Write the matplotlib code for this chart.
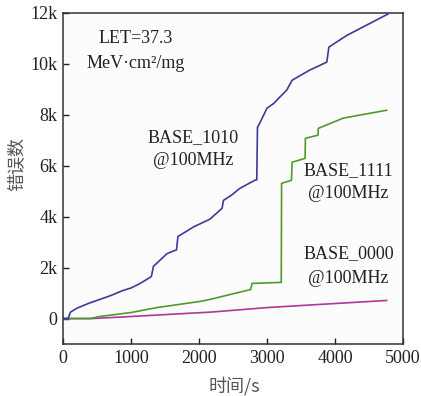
import matplotlib.pyplot as plt
from matplotlib.ticker import FuncFormatter

plt.rcParams["font.family"] = ["Liberation Serif", "Noto Sans CJK SC"]
plt.rcParams["font.size"] = 13

# BASE_1010 (blue)
t_1010 = [0, 75, 110, 200, 380, 540, 700, 880, 1000, 1130, 1300, 1330, 1350, 1530,
          1670, 1690, 1800, 1920, 2160, 2340, 2360, 2480, 2600, 2820, 2850, 2860,
          2900, 3000, 3100, 3190, 3290, 3370, 3500, 3630, 3880, 3910, 4180, 4470,
          4780]
n_1010 = [0, 0, 250, 400, 600, 750, 900, 1100, 1200, 1370, 1650, 2050, 2100, 2550,
          2700, 3220, 3400, 3600, 3900, 4330, 4640, 4850, 5110, 5430, 5450, 7510,
          7710, 8260, 8450, 8700, 8970, 9360, 9560, 9760, 10070, 10660, 11130, 11530,
          11960]

# BASE_1111 (green)
t_1111 = [0, 400, 540, 1010, 1380, 2010, 2160, 2760, 2780, 3210, 3215, 3360,
          3370, 3560, 3565, 3750, 3755, 4120, 4510, 4760]
n_1111 = [0, 0, 80, 240, 430, 670, 750, 1140, 1380, 1420, 5310, 5430,
          6140, 6290, 7080, 7200, 7470, 7870, 8060, 8180]

# BASE_0000 (magenta)
t_0000 = [0, 440, 1000, 2010, 2160, 3000, 4000, 4760]
n_0000 = [0, 0, 80, 230, 250, 430, 590, 710]

fig = plt.figure(figsize=(4.21, 3.96), dpi=100)
ax = fig.add_axes([0.1496, 0.1313, 0.8076, 0.8359])
ax.set_facecolor("#fcfcfc")

ax.plot(t_0000, n_0000, color="#b0389c", lw=1.2)
ax.plot(t_1111, n_1111, color="#4f9a2c", lw=1.2)
ax.plot(t_1010, n_1010, color="#3b3b9e", lw=1.2)

ax.set_xlim(0, 5000)
ax.set_ylim(-1000, 12000)
ax.set_xticks([0, 1000, 2000, 3000, 4000, 5000])
ax.set_yticks([0, 2000, 4000, 6000, 8000, 10000, 12000])
ax.yaxis.set_major_formatter(FuncFormatter(lambda v, p: "0" if v == 0 else f"{int(v / 1000)}k"))
ax.tick_params(direction="in", length=4, width=1, colors="#222222", labelsize=13, pad=4)
for s in ax.spines.values():
    s.set_color("#333333")
    s.set_linewidth(1.1)

ax.set_xlabel("时间/s", family=["Noto Sans CJK SC"], fontsize=13, color="#555555", va="center")
ax.xaxis.set_label_coords(0.503, -0.127)
ax.set_ylabel("错误数", family=["Noto Sans CJK SC"], fontsize=13, color="#555555", va="center")
ax.yaxis.set_label_coords(-0.135, 0.544)

tc = "#222222"
ax.text(1070, 11010, "LET=37.3", ha="center", va="center", color=tc)
ax.text(1070, 10030, "MeV·cm²/mg", ha="center", va="center", color=tc)
ax.text(1910, 7120, "BASE_1010", ha="center", va="center", color=tc)
ax.text(1910, 6220, "@100MHz", ha="center", va="center", color=tc)
ax.text(4190, 5820, "BASE_1111", ha="center", va="center", color=tc)
ax.text(4190, 4920, "@100MHz", ha="center", va="center", color=tc)
ax.text(4200, 2550, "BASE_0000", ha="center", va="center", color=tc)
ax.text(4200, 1570, "@100MHz", ha="center", va="center", color=tc)

fig.savefig("out.png", dpi=100)
